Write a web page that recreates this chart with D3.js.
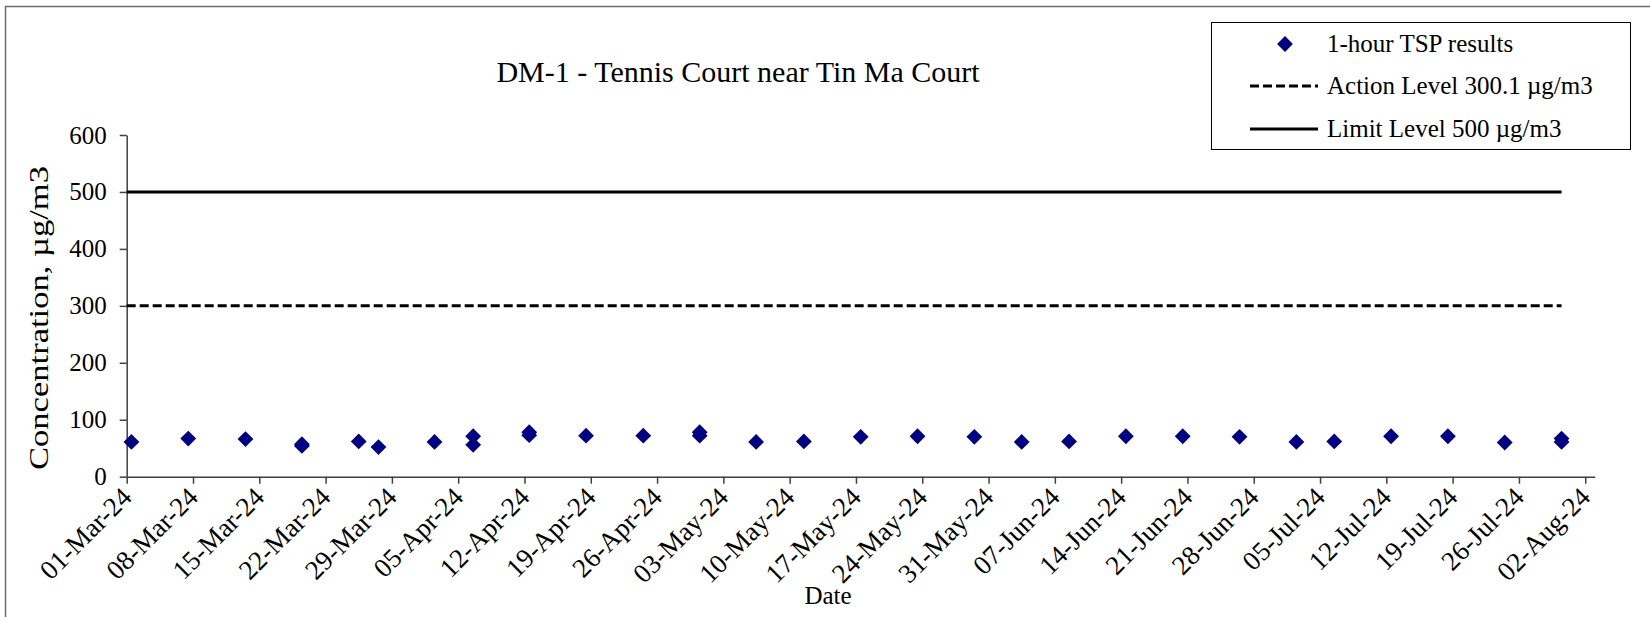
<!DOCTYPE html>
<html>
<head>
<meta charset="utf-8">
<script src="https://cdn.jsdelivr.net/npm/d3@7"></script>
<style>
  body { margin: 0; background: #fff; }
  svg text { font-family: "Liberation Serif", "Times New Roman", serif; fill: #000; }
</style>
</head>
<body>
<script>
// 1-hour TSP sampling times and results (ug/m3)
const sampleTimes = [
  "2024-03-01 12:00", "2024-03-07 12:00", "2024-03-13 13:00", "2024-03-19 12:00", "2024-03-19 12:00",
  "2024-03-25 12:00", "2024-03-27 14:00", "2024-04-02 12:00", "2024-04-06 14:00", "2024-04-06 14:00",
  "2024-04-12 12:00", "2024-04-12 12:00", "2024-04-18 12:00", "2024-04-24 13:00", "2024-04-30 12:00",
  "2024-04-30 12:00", "2024-05-06 11:00", "2024-05-11 12:00", "2024-05-17 12:00", "2024-05-23 12:00",
  "2024-05-29 12:00", "2024-06-03 12:00", "2024-06-08 12:00", "2024-06-14 12:00", "2024-06-20 12:00",
  "2024-06-26 12:00", "2024-07-02 12:00", "2024-07-06 12:00", "2024-07-12 12:00", "2024-07-18 12:00",
  "2024-07-24 12:00", "2024-07-30 12:00", "2024-07-30 12:00"
];
const tspValues = [
  61, 67, 66, 57, 54,
  62, 52, 61, 71, 56,
  78, 73, 72, 72, 78,
  72, 61, 62, 70, 71,
  70, 61, 62, 71, 71,
  70, 61, 62, 71, 71,
  60, 67, 61
];

// level lines run from first to last monitoring day
const levelTimes = ["2024-03-01 00:00", "2024-07-30 12:00"];
const actionLevel = 300.1;
const limitLevel = 500;

const xTickLabels = [
  "01-Mar-24", "08-Mar-24", "15-Mar-24", "22-Mar-24", "29-Mar-24", "05-Apr-24", "12-Apr-24",
  "19-Apr-24", "26-Apr-24", "03-May-24", "10-May-24", "17-May-24", "24-May-24", "31-May-24",
  "07-Jun-24", "14-Jun-24", "21-Jun-24", "28-Jun-24", "05-Jul-24", "12-Jul-24", "19-Jul-24",
  "26-Jul-24", "02-Aug-24"
];
const yTicks = [0, 100, 200, 300, 400, 500, 600];
const xDomain = ["2024-03-01", "2024-08-03"];

const width = 1650, height = 617;
const plotL = 126.7, plotR = 1594.7, plotT = 135, plotB = 476.7;
const serif = "'Liberation Serif', 'Times New Roman', serif";

const parseTime = d3.timeParse("%Y-%m-%d %H:%M");
const parseDay = d3.timeParse("%Y-%m-%d");
const parseLabel = d3.timeParse("%d-%b-%y");
const fmtLabel = d3.timeFormat("%d-%b-%y");

const svg = d3.select("body").append("svg")
  .attr("width", width)
  .attr("height", height);

// chart border (right / bottom edges are outside the picture)
svg.append("rect")
  .attr("x", 5.5).attr("y", 6.5)
  .attr("width", 1700).attr("height", 700)
  .attr("fill", "none")
  .attr("stroke", "#6e6e6e")
  .attr("stroke-width", 1.5);

const x = d3.scaleTime()
  .domain(xDomain.map(parseDay))
  .range([plotL, plotR]);

const y = d3.scaleLinear()
  .domain([0, 600])
  .range([plotB, plotT]);

// title
svg.append("text")
  .attr("x", 738).attr("y", 82)
  .attr("text-anchor", "middle")
  .style("font-size", "30px")
  .text("DM-1 - Tennis Court near Tin Ma Court");

// y axis
const yAxis = svg.append("g")
  .attr("transform", `translate(${plotL},0)`)
  .call(d3.axisLeft(y).tickValues(yTicks).tickSize(7).tickSizeOuter(0).tickPadding(13));
yAxis.select(".domain").attr("stroke", "#404040").attr("stroke-width", 1.5);
yAxis.selectAll(".tick line").attr("stroke", "#404040").attr("stroke-width", 1.5);
yAxis.selectAll(".tick text")
  .style("font-size", "25px")
  .style("font-family", serif)
  .attr("fill", "#000");

// x axis
const xAxis = svg.append("g")
  .attr("transform", `translate(0,${plotB})`)
  .call(d3.axisBottom(x)
    .tickValues(xTickLabels.map(parseLabel))
    .tickFormat(fmtLabel)
    .tickSize(7)
    .tickSizeOuter(0));
xAxis.select(".domain").attr("stroke", "#404040").attr("stroke-width", 1.5);
xAxis.selectAll(".tick line").attr("stroke", "#404040").attr("stroke-width", 1.5);
xAxis.selectAll(".tick text")
  .style("font-size", "27px")
  .style("font-family", serif)
  .attr("fill", "#000")
  .attr("text-anchor", "end")
  .attr("y", 0).attr("dy", 0)
  .attr("transform", "translate(6,22) rotate(-45)");

// axis titles
svg.append("text")
  .attr("transform", "translate(48,318) rotate(-90)")
  .attr("text-anchor", "middle")
  .style("font-size", "28px")
  .attr("textLength", 304)
  .attr("lengthAdjust", "spacingAndGlyphs")
  .text("Concentration, µg/m3");

svg.append("text")
  .attr("x", 828).attr("y", 604)
  .attr("text-anchor", "middle")
  .style("font-size", "25px")
  .text("Date");

// level lines
const line = d3.line().x(d => x(d.t)).y(d => y(d.v));
const levelRows = v => levelTimes.map(t => ({ t: parseTime(t), v: v }));

svg.append("path")
  .datum(levelRows(limitLevel))
  .attr("d", line)
  .attr("fill", "none")
  .attr("stroke", "#000")
  .attr("stroke-width", 3);

svg.append("path")
  .datum(levelRows(actionLevel))
  .attr("d", line)
  .attr("fill", "none")
  .attr("stroke", "#000")
  .attr("stroke-width", 3)
  .attr("stroke-dasharray", "9,4");

// results
const diamond = d3.symbol().type(d3.symbolSquare).size(125);
const pts = sampleTimes.map((t, i) => ({ t: parseTime(t), v: tspValues[i] }));

svg.append("g")
  .selectAll("path")
  .data(pts)
  .enter().append("path")
  .attr("d", diamond)
  .attr("transform", d => `translate(${x(d.t)},${y(d.v)}) rotate(45)`)
  .attr("fill", "#000080");

// legend
const lg = svg.append("g");
lg.append("rect")
  .attr("x", 1211.5).attr("y", 22.5)
  .attr("width", 419).attr("height", 127)
  .attr("fill", "#fff")
  .attr("stroke", "#000")
  .attr("stroke-width", 1);

const legendItems = [
  { label: "1-hour TSP results", kind: "point", cy: 44 },
  { label: "Action Level 300.1 µg/m3", kind: "dash", cy: 86 },
  { label: "Limit Level 500 µg/m3", kind: "solid", cy: 129 }
];

legendItems.forEach(it => {
  if (it.kind === "point") {
    lg.append("path")
      .attr("d", diamond)
      .attr("transform", `translate(1285,${it.cy}) rotate(45)`)
      .attr("fill", "#000080");
  } else {
    lg.append("line")
      .attr("x1", 1250).attr("x2", 1318)
      .attr("y1", it.cy).attr("y2", it.cy)
      .attr("stroke", "#000")
      .attr("stroke-width", 3)
      .attr("stroke-dasharray", it.kind === "dash" ? "9,4" : null);
  }
  lg.append("text")
    .attr("x", 1327).attr("y", it.cy + 8)
    .style("font-size", "25px")
    .text(it.label);
});
</script>
</body>
</html>
